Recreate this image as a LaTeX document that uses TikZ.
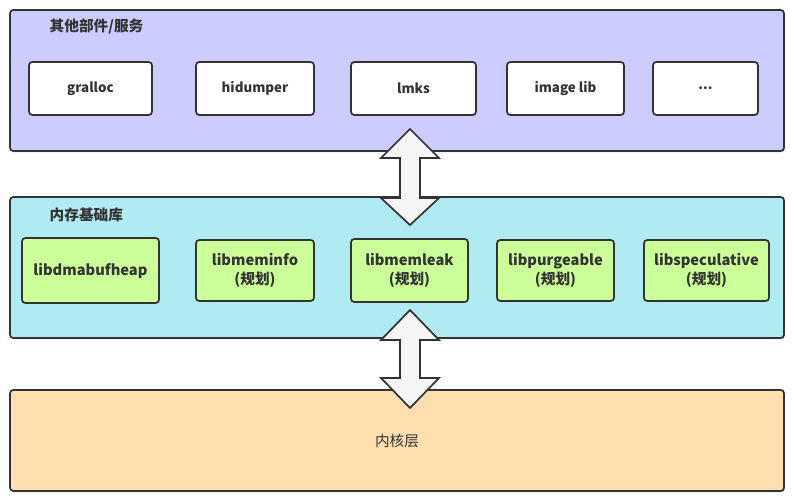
\documentclass[tikz,border=0pt]{standalone}
\usepackage{fontspec}
\setmainfont{Noto Sans CJK SC}
\usepackage{tikz}
\usepackage{xcolor}
\usetikzlibrary{
    calc,
    shadows,
    positioning
}
\definecolor{linegray}{HTML}{333333}
\definecolor{svcblue}{HTML}{CCCCFF}
\definecolor{libcyan}{HTML}{B1EBF2}
\definecolor{kernorange}{HTML}{FFDFB0}
\definecolor{libgreen}{HTML}{CCFF99}
\definecolor{arrowgray}{HTML}{F5F5F5}
\tikzset{
    layer/.style={draw=linegray, line width=1.3pt, rounded corners=2.5pt,
        drop shadow={shadow xshift=0.6pt, shadow yshift=-0.8pt, fill=black, opacity=0.3}},
    svcbox/.style={draw=linegray, line width=1.3pt, rounded corners=2.5pt, fill=white,
        text=linegray, font=\fontsize{10}{12}\selectfont\bfseries},
    libbox/.style={draw=linegray, line width=1.3pt, rounded corners=2.5pt, fill=libgreen,
        text=linegray, align=center, font=\fontsize{11}{14}\selectfont\bfseries},
    title/.style={anchor=west, text=linegray, font=\fontsize{11}{13}\selectfont\bfseries},
    dims/.style 2 args={minimum width=#1*0.75pt, minimum height=#2*0.75pt, inner sep=0pt},
    bigarrow/.style={draw=linegray, line width=1.3pt, fill=arrowgray, line join=miter}
}

\begin{document}
\begin{tikzpicture}[x=0.75pt, y=-0.75pt]
    \useasboundingbox (0, 0) rectangle (794, 502);
    % layers
    \node[layer, fill=svcblue, dims={774}{141}] (svc) at (397, 80.5) {};
    \node[layer, fill=libcyan, dims={774}{141}] (lib) at (397, 267.5) {};
    \node[layer, fill=kernorange, dims={774}{101}] (kern) at (397, 440.5) {};
    \node[title] (svct) at (45, 27) {其他部件/服务};
    \node[title] (libt) at (45, 215) {内存基础库};
    \node[text=linegray, font=\fontsize{11}{13}\selectfont] (kernt) at (kern.center) {内核层};
    % services
    \node[svcbox, dims={123}{53}] (gralloc) at (90.5, 88.5) {gralloc};
    \node[svcbox, dims={118}{53}] (hidumper) at (255, 88.5) {hidumper};
    \node[svcbox, dims={125}{53}] (lmks) at (413.5, 88.5) {lmks};
    \node[svcbox, dims={117}{53}] (imagelib) at (565.5, 88.5) {image lib};
    \node[svcbox, dims={105}{53}] (more) at (705.5, 88.5) {...};
    % libraries
    \node[libbox, dims={137}{65}] (dmabuf) at (90.5, 270.5) {libdmabufheap};
    \node[libbox, dims={118}{61}] (meminfo) at (255, 270.5) {libmeminfo\\(规划)};
    \node[libbox, dims={117}{63}] (memleak) at (409.5, 270.5) {libmemleak\\(规划)};
    \node[libbox, dims={117}{61}] (purge) at (555.5, 270.5) {libpurgeable\\(规划)};
    \node[libbox, dims={125}{61}] (spec) at (706.5, 270.5) {libspeculative\\(规划)};
    % double arrows between layers
    \coordinate (a1) at (410, 129);
    \coordinate (a2) at (410, 310);
    \draw[bigarrow] (a1) -- ++(29, 29) -- ++(-19, 0) -- ++(0, 40) -- ++(19, 0)
        -- ++(-29, 27) -- ++(-29, -27) -- ++(19, 0) -- ++(0, -40) -- ++(-19, 0) -- cycle;
    \draw[bigarrow] (a2) -- ++(29, 30) -- ++(-19, 0) -- ++(0, 38) -- ++(19, 0)
        -- ++(-29, 30) -- ++(-29, -30) -- ++(19, 0) -- ++(0, -38) -- ++(-19, 0) -- cycle;
\end{tikzpicture}
\end{document}
